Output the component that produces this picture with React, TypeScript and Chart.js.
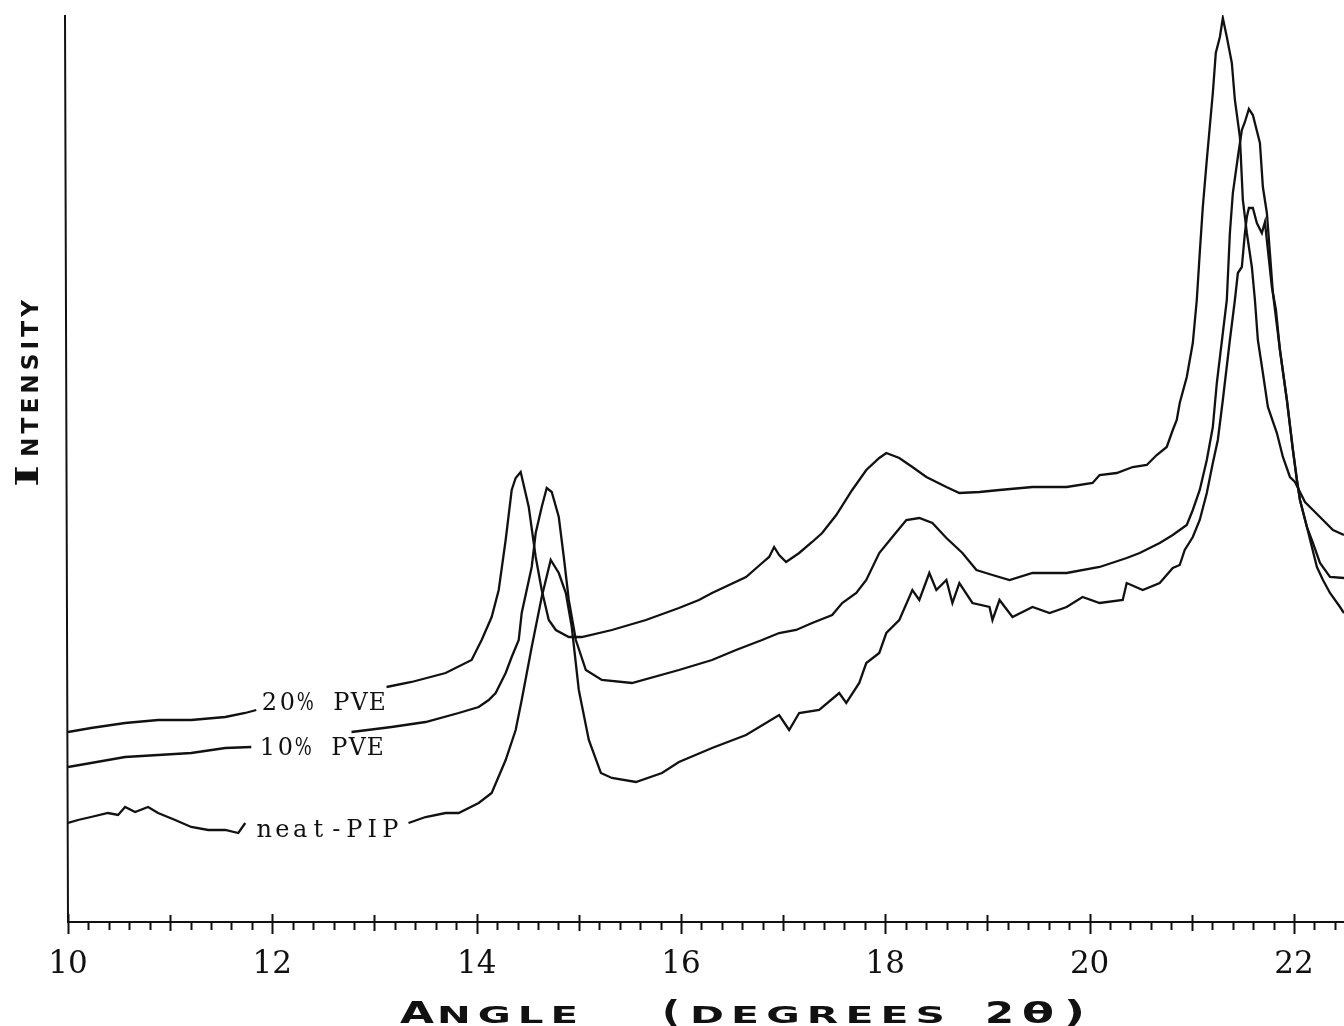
import { useEffect, useRef } from 'react';
import { Chart, registerables } from 'chart.js';

Chart.register(...registerables);

// [angle (degrees 2θ), intensity (arb.)]; null marks the gap left for the label
const PVE20: [number, number | null][] = [
  [10.0, 190], [10.225, 194], [10.559, 199], [10.882, 202], [11.206, 202], [11.539, 205], [11.735, 209], [11.843, 212],
  [12.5, null],
  [13.118, 235], [13.363, 240], [13.696, 249], [13.951, 262], [14.049, 282], [14.147, 305], [14.216, 332], [14.284, 382],
  [14.343, 432], [14.382, 444], [14.431, 450], [14.51, 415], [14.578, 365], [14.637, 332], [14.706, 302], [14.775, 292],
  [14.902, 285], [15.029, 285], [15.324, 292], [15.657, 302], [15.98, 314], [16.176, 322], [16.304, 329], [16.637, 345],
  [16.794, 359], [16.863, 365], [16.912, 375], [16.961, 367], [17.029, 360], [17.157, 369], [17.284, 380], [17.382, 389],
  [17.52, 407], [17.676, 432], [17.814, 452], [17.941, 464], [18.01, 469], [18.137, 464], [18.265, 455], [18.402, 445],
  [18.598, 435], [18.725, 429], [18.922, 430], [19.118, 432], [19.441, 435], [19.775, 435], [20.029, 439], [20.098, 447],
  [20.265, 449], [20.422, 455], [20.559, 457], [20.657, 467], [20.755, 475], [20.814, 492], [20.853, 502], [20.882, 519],
  [20.951, 545], [21.01, 579], [21.049, 622], [21.078, 669], [21.108, 715], [21.147, 762], [21.176, 795], [21.206, 829],
  [21.235, 869], [21.275, 885], [21.304, 904], [21.343, 885], [21.392, 859], [21.422, 822], [21.471, 785], [21.5, 722],
  [21.539, 689], [21.588, 655], [21.618, 622], [21.647, 582], [21.696, 549], [21.745, 515], [21.833, 489], [21.892, 465],
  [21.961, 445], [22.01, 440], [22.108, 420], [22.186, 412], [22.284, 402], [22.382, 392], [22.49, 387],
];

const PVE10: [number, number | null][] = [
  [10.0, 155], [10.225, 159], [10.559, 165], [10.882, 167], [11.206, 169], [11.539, 174], [11.794, 175],
  [12.3, null],
  [12.775, 190], [13.167, 195], [13.5, 200], [13.824, 209], [14.02, 215], [14.118, 222], [14.186, 229], [14.284, 249],
  [14.343, 265], [14.412, 282], [14.441, 309], [14.539, 355], [14.578, 389], [14.637, 415], [14.686, 434], [14.735, 430],
  [14.804, 405], [14.853, 365], [14.902, 322], [14.971, 282], [15.069, 252], [15.225, 242], [15.52, 239], [15.98, 252],
  [16.304, 262], [16.539, 272], [16.794, 282], [16.961, 289], [17.127, 292], [17.284, 299], [17.48, 307], [17.578, 319],
  [17.716, 329], [17.814, 342], [17.941, 369], [18.069, 385], [18.206, 402], [18.333, 404], [18.461, 399], [18.598, 384],
  [18.755, 369], [18.892, 352], [19.049, 347], [19.216, 342], [19.441, 349], [19.775, 349], [20.098, 355], [20.363, 364],
  [20.49, 369], [20.686, 379], [20.814, 387], [20.882, 392], [20.951, 397], [21.01, 412], [21.078, 432], [21.147, 462],
  [21.206, 495], [21.245, 539], [21.304, 589], [21.343, 622], [21.373, 689], [21.402, 729], [21.451, 765], [21.49, 792],
  [21.52, 800], [21.559, 813], [21.598, 807], [21.667, 779], [21.696, 735], [21.735, 709], [21.765, 669], [21.794, 629],
  [21.863, 572], [21.931, 522], [21.99, 472], [22.029, 442], [22.059, 422], [22.127, 395], [22.186, 379], [22.255, 359],
  [22.353, 345], [22.49, 344],
];

const NEAT_PIP: [number, number | null][] = [
  [10.0, 99], [10.098, 102], [10.225, 105], [10.392, 109], [10.49, 107], [10.559, 115], [10.657, 110], [10.784, 115],
  [10.882, 109], [11.049, 102], [11.206, 95], [11.373, 92], [11.539, 92], [11.667, 89], [11.735, 99],
  [12.5, null],
  [13.333, 99], [13.5, 105], [13.696, 109], [13.824, 109], [14.02, 119], [14.147, 129], [14.284, 162], [14.382, 192],
  [14.441, 222], [14.539, 275], [14.637, 325], [14.725, 362], [14.804, 349], [14.873, 329], [14.931, 295], [15.0, 232],
  [15.098, 182], [15.216, 149], [15.324, 144], [15.559, 140], [15.814, 149], [15.98, 160], [16.304, 174], [16.637, 187],
  [16.961, 207], [17.059, 192], [17.157, 209], [17.353, 212], [17.549, 229], [17.618, 219], [17.745, 239], [17.814, 259],
  [17.941, 269], [18.01, 289], [18.137, 302], [18.265, 332], [18.333, 322], [18.431, 349], [18.5, 332], [18.598, 342],
  [18.657, 319], [18.725, 339], [18.853, 319], [19.02, 315], [19.049, 302], [19.118, 322], [19.245, 305], [19.441, 315],
  [19.608, 309], [19.775, 315], [19.931, 325], [20.098, 319], [20.324, 322], [20.363, 339], [20.52, 332], [20.686, 339],
  [20.814, 354], [20.882, 357], [20.931, 372], [21.01, 385], [21.078, 402], [21.147, 429], [21.206, 459], [21.255, 482],
  [21.304, 522], [21.373, 582], [21.422, 622], [21.451, 649], [21.49, 655], [21.52, 689], [21.539, 705], [21.559, 714],
  [21.598, 714], [21.637, 699], [21.686, 689], [21.716, 700], [21.745, 672], [21.784, 635], [21.824, 612], [21.863, 572],
  [21.931, 522], [21.99, 472], [22.029, 442], [22.059, 422], [22.127, 395], [22.225, 355], [22.284, 342], [22.353, 329],
  [22.451, 315], [22.49, 309],
];

const X_MIN = 10;
const X_MAX = 22.49;
const Y_MIN = 0;
const Y_MAX = 907;
const X_TICK_LABELS = [10, 12, 14, 16, 18, 20, 22];

// curve labels: text, angle of left edge, intensity of baseline
const CURVE_LABELS = [
  { text: '20% PVE', angle: 11.882, intensity: 212 },
  { text: '10% PVE', angle: 11.863, intensity: 167 },
  { text: 'neat-PIP', angle: 11.833, intensity: 85 },
];

const INK = '#111';

function drawFitted(
  ctx: CanvasRenderingContext2D,
  text: string,
  font: string,
  x0: number,
  x1: number,
  baseline: number,
  spacing: number,
) {
  ctx.save();
  ctx.font = font;
  (ctx as any).letterSpacing = spacing + 'px';
  const w = ctx.measureText(text).width - spacing;
  const sx = (x1 - x0) / w;
  ctx.translate(x0, baseline);
  ctx.scale(sx, 1);
  ctx.textAlign = 'left';
  ctx.textBaseline = 'alphabetic';
  ctx.fillText(text, 0, 0);
  ctx.restore();
}

const decorPlugin = {
  id: 'decor',
  afterDatasetsDraw(chart: any) {
    const { ctx, scales } = chart;
    const xs = scales.x;
    const ys = scales.y;
    ctx.save();
    ctx.fillStyle = INK;
    ctx.font = "24px 'DejaVu Serif'";
    ctx.textAlign = 'center';
    ctx.textBaseline = 'alphabetic';
    const CELL = 18;
    for (const lab of CURVE_LABELS) {
      const px = xs.getPixelForValue(lab.angle);
      const py = ys.getPixelForValue(lab.intensity);
      [...lab.text].forEach((ch, i) => {
        if (ch !== ' ') ctx.fillText(ch, px + CELL * i + CELL / 2, py, CELL - 1);
      });
    }
    ctx.restore();
  },
  afterDraw(chart: any) {
    const { ctx, chartArea, scales } = chart;
    const { left, right, top, bottom } = chartArea;
    const xs = scales.x;
    ctx.save();
    ctx.strokeStyle = INK;
    ctx.lineWidth = 2;
    ctx.beginPath();
    ctx.moveTo(left - 3, top);
    ctx.lineTo(left, bottom + 1);
    ctx.moveTo(left - 1, bottom);
    ctx.lineTo(right, bottom);
    ctx.stroke();
    ctx.beginPath();
    for (let i = 0; i <= 62; i++) {
      const v = X_MIN + i * 0.2;
      const px = Math.round(xs.getPixelForValue(v)) + 0.5;
      if (i % 10 === 0) {
        ctx.moveTo(px, bottom - 8);
        ctx.lineTo(px, bottom + 12);
      } else if (i % 5 === 0) {
        ctx.moveTo(px, bottom - 7);
        ctx.lineTo(px, bottom + 9);
      } else {
        ctx.moveTo(px, bottom);
        ctx.lineTo(px, bottom + 8);
      }
    }
    ctx.stroke();

    // axis titles (small caps, extended)
    ctx.fillStyle = INK;
    const big = "bold 31px 'DejaVu Sans'";
    const small = "bold 23px 'DejaVu Sans'";
    const base = 1023;
    drawFitted(ctx, 'A', big, 400, 434, base, 0);
    drawFitted(ctx, 'NGLE', small, 437, 578, base, 4);
    drawFitted(ctx, '(', big, 662, 680, base - 1, 0);
    drawFitted(ctx, 'DEGREES', small, 690, 945, base, 4);
    drawFitted(ctx, '2', big, 985, 1014, base, 0);
    drawFitted(ctx, 'θ', "bold 29px 'DejaVu Sans'", 1022, 1054, base, 0);
    drawFitted(ctx, ')', big, 1064, 1085, base - 1, 0);

    ctx.save();
    ctx.translate(38, 487);
    ctx.rotate(-Math.PI / 2);
    drawFitted(ctx, 'I', "bold 31px 'DejaVu Serif'", 0, 22, 0, 0);
    drawFitted(ctx, 'NTENSITY', small, 30, 187, 0, 4);
    ctx.restore();
    ctx.restore();
  },
};

function toPoints(series: [number, number | null][]) {
  return series.map(([x, y]) => ({ x, y }));
}

export default function App() {
  const canvasRef = useRef<HTMLCanvasElement | null>(null);

  useEffect(() => {
    const canvas = canvasRef.current;
    if (!canvas) return;
    const lineStyle = {
      borderColor: INK,
      borderWidth: 2.3,
      pointRadius: 0,
      tension: 0,
      fill: false,
      spanGaps: false,
    };
    const chart = new Chart(canvas, {
      type: 'line',
      data: {
        datasets: [
          { label: '20% PVE', data: toPoints(PVE20) as any, ...lineStyle },
          { label: '10% PVE', data: toPoints(PVE10) as any, ...lineStyle },
          { label: 'neat-PIP', data: toPoints(NEAT_PIP) as any, ...lineStyle },
        ],
      },
      options: {
        animation: false,
        responsive: true,
        maintainAspectRatio: false,
        layout: { padding: { top: 15, right: 0, bottom: 0, left: 0 } },
        plugins: {
          legend: { display: false },
          tooltip: { enabled: false },
          title: { display: false },
        },
        scales: {
          x: {
            type: 'linear',
            min: X_MIN,
            max: X_MAX,
            grid: { display: false },
            border: { display: false },
            afterFit: (s: any) => {
              s.height = 104;
            },
            ticks: {
              stepSize: 2,
              includeBounds: false,
              autoSkip: false,
              maxRotation: 0,
              padding: 16,
              color: INK,
              font: { family: "'DejaVu Serif'", size: 31 },
              callback: (value: any) => {
                const v = Number(value);
                const r = Math.round(v);
                return Math.abs(v - r) < 1e-6 && X_TICK_LABELS.includes(r) ? String(r) : '';
              },
            },
          },
          y: {
            type: 'linear',
            min: Y_MIN,
            max: Y_MAX,
            grid: { display: false },
            border: { display: false },
            ticks: { display: false },
            afterFit: (s: any) => {
              s.width = 68;
            },
          },
        },
      },
      plugins: [decorPlugin],
    });
    return () => chart.destroy();
  }, []);

  return (
    <div style={{ position: 'fixed', left: 0, top: 0, width: 1344, height: 1026, background: '#fff' }}>
      <canvas ref={canvasRef} />
    </div>
  );
}
